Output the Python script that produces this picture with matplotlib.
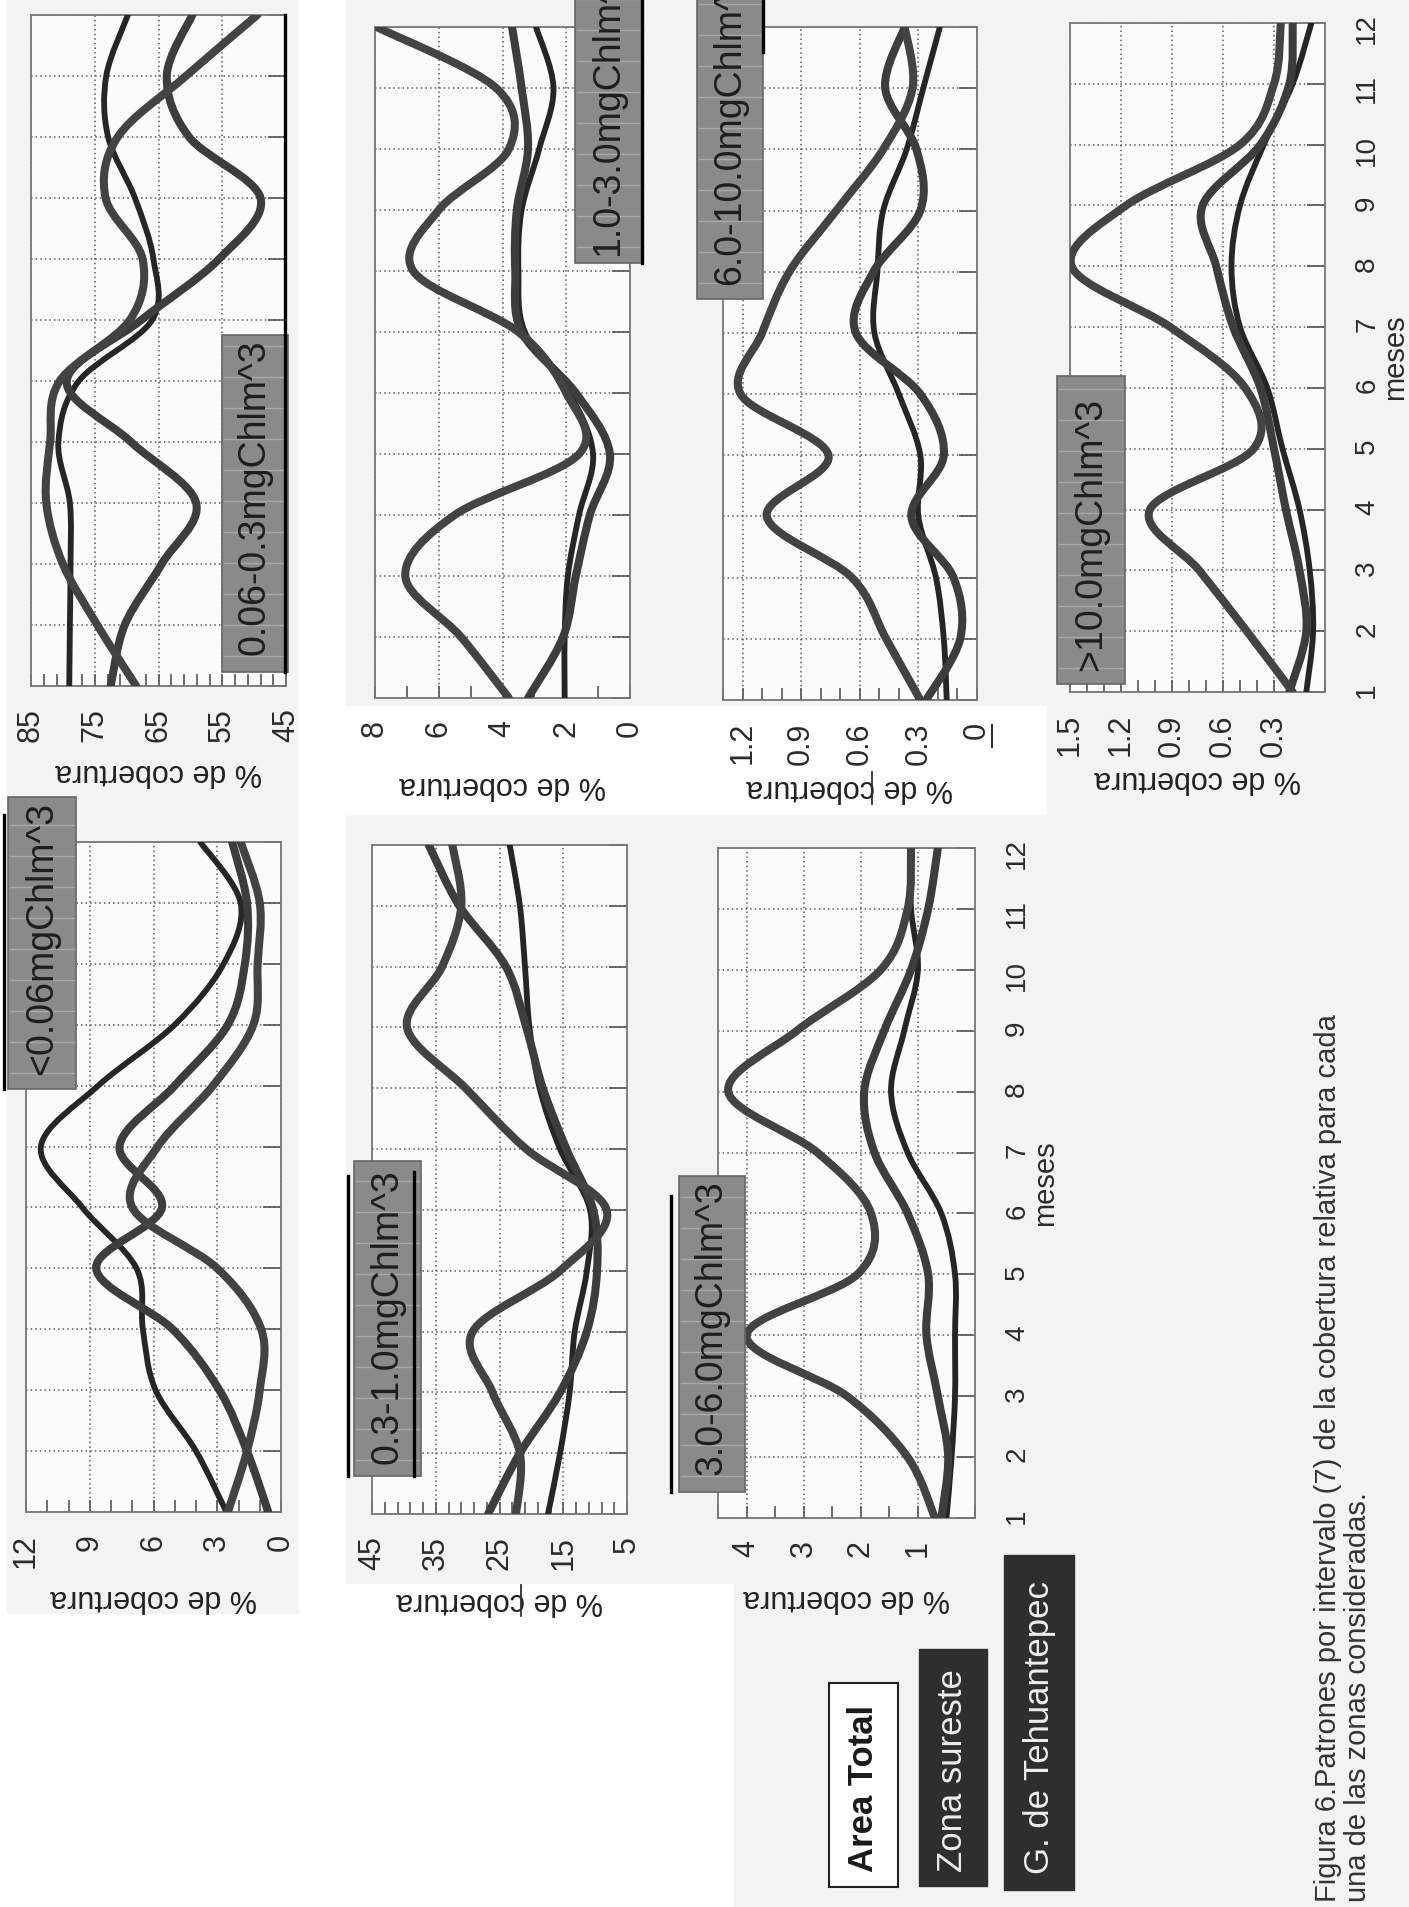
import numpy as np
import matplotlib.pyplot as plt
from matplotlib.path import Path
from matplotlib.patches import PathPatch, Rectangle
from matplotlib.lines import Line2D

plt.rcParams['font.family'] = ['Liberation Sans', 'DejaVu Sans']

W, H = 1409, 1907

meses = list(range(1, 13))

# ===== % DE COBERTURA POR MES (3 zonas por intervalo) =====
# 0.06-0.3 mgChl/m^3
c0603_a = [79.0, 78.9, 78.8, 78.9, 80.7, 77.5, 66.0, 65.8, 68.7, 72.9, 73.2, 69.8]
c0603_b = [72.5, 70.3, 64.5, 59.1, 69.3, 79.4, 67.7, 55.5, 49.0, 60.2, 63.7, 59.7]
c0603_c = [68.5, 74.6, 80.0, 82.6, 82.0, 80.5, 69.5, 67.5, 73.3, 71.4, 60.7, 49.5]

# 1.0-3.0
c1030_a = [3.8, 5.3, 7.05, 5.5, 1.6, 2.0, 3.5, 6.8, 6.0, 3.8, 4.2, 7.95]
c1030_b = [3.2, 2.1, 1.7, 1.26, 0.63, 1.7, 3.4, 3.6, 3.55, 3.2, 3.4, 3.7]
c1030_c = [2.05, 2.05, 1.95, 1.6, 1.16, 1.9, 3.3, 3.5, 3.4, 2.85, 2.4, 2.95]

# 6.0-10.0
c6010_a = [0.29, 0.465, 0.64, 1.076, 0.76, 1.21, 1.10, 0.96, 0.72, 0.48, 0.33, 0.37]
c6010_b = [0.26, 0.086, 0.12, 0.336, 0.17, 0.29, 0.62, 0.53, 0.29, 0.31, 0.47, 0.37]
c6010_c = [0.155, 0.17, 0.21, 0.30, 0.29, 0.40, 0.525, 0.51, 0.48, 0.36, 0.275, 0.19]

# >10.0
c10_a = [0.19, 0.46, 0.74, 1.03, 0.42, 0.47, 0.91, 1.49, 1.17, 0.50, 0.30, 0.26]
c10_b = [0.21, 0.11, 0.15, 0.23, 0.30, 0.38, 0.54, 0.64, 0.72, 0.38, 0.21, 0.19]
c10_c = [0.11, 0.07, 0.09, 0.15, 0.25, 0.34, 0.50, 0.55, 0.50, 0.36, 0.19, 0.08]

# <0.06
c006_a = [2.57, 4.0, 5.9, 6.5, 6.8, 9.35, 11.3, 8.6, 5.0, 2.7, 1.9, 3.8]
c006_b = [0.6, 1.6, 2.9, 5.1, 8.7, 5.6, 7.6, 5.0, 2.5, 1.7, 1.6, 2.3]
c006_c = [2.5, 1.6, 1.0, 0.93, 3.0, 7.0, 5.8, 3.2, 1.3, 1.1, 1.0, 1.9]

# 0.3-1.0
c0310_a = [22.4, 21.8, 26.1, 29.2, 15.5, 8.2, 20.8, 30.3, 39.5, 34.0, 31.0, 32.4]
c0310_b = [26.8, 21.8, 15.5, 11.3, 9.7, 10.3, 14.5, 18.2, 20.8, 24.0, 31.3, 36.1]
c0310_c = [17.4, 15.5, 14.0, 13.2, 11.3, 10.8, 15.5, 18.7, 20.3, 21.0, 21.8, 23.4]

# 3.0-6.0
c3060_a = [0.7, 1.18, 2.24, 4.0, 2.06, 1.82, 2.76, 4.32, 3.12, 1.65, 1.18, 1.12]
c3060_b = [0.59, 0.47, 0.65, 0.85, 0.82, 1.18, 1.76, 1.94, 1.59, 1.12, 0.82, 0.65]
c3060_c = [0.5, 0.41, 0.35, 0.35, 0.35, 0.59, 1.18, 1.47, 1.24, 1.0, 1.12, 1.12]

# ===== FIGURA =====
fig = plt.figure(figsize=(W / 100, H / 100), dpi=100, facecolor='#f3f3f3')


def fx(x):
    return x / W


def fy(y):
    return 1 - y / H


def rect(x0, y0, x1, y1, **kw):
    r = Rectangle((fx(x0), fy(y1)), (x1 - x0) / W, (y1 - y0) / H,
                  transform=fig.transFigure, **kw)
    fig.add_artist(r)
    return r


def vline(x, y0, y1, lw=2.4, color='black'):
    fig.add_artist(Line2D([fx(x), fx(x)], [fy(y0), fy(y1)],
                          transform=fig.transFigure, color=color, lw=lw,
                          zorder=6))


def suave(vals, mes):
    # linea suavizada tipo Excel (Catmull-Rom -> Bezier)
    pts = np.column_stack([vals, mes]).astype(float)
    n = len(pts)
    verts = [pts[0]]
    codes = [Path.MOVETO]
    for i in range(n - 1):
        p0 = pts[i - 1] if i > 0 else pts[i]
        p1 = pts[i]
        p2 = pts[i + 1]
        p3 = pts[i + 2] if i + 2 < n else pts[i + 1]
        verts += [p1 + (p2 - p0) / 6, p2 - (p3 - p1) / 6, p2]
        codes += [Path.CURVE4] * 3
    return Path(verts, codes)


# zonas blancas del montaje
blanco = dict(facecolor='white', edgecolor='none', zorder=-5)
rect(0, 0, 7, 1614, **blanco)
rect(299, 0, 346, 1614, **blanco)
rect(346, 706, 1047, 815, **blanco)
rect(346, 1584, 734, 1614, **blanco)
rect(0, 1614, 734, 1907, **blanco)

panels = [
    dict(box=(31, 15, 286, 686), xlim=(85, 45), ticks=[85, 75, 65, 55, 45],
         labels=['85', '75', '65', '55', '45'], minor=2,
         series=[c0603_a, c0603_b, c0603_c], ylab=772, months=False),
    dict(box=(375, 27, 630, 698), xlim=(8, 0), ticks=[8, 6, 4, 2, 0],
         labels=['8', '6', '4', '2', '0'], minor=1,
         series=[c1030_c, c1030_b, c1030_a], ylab=785, months=False),
    dict(box=(723, 27, 977, 700), xlim=(1.3, 0), ticks=[1.2, 0.9, 0.6, 0.3, 0],
         labels=['1.2', '0.9', '0.6', '0.3', '0'], minor=0.1,
         series=[c6010_c, c6010_b, c6010_a], ylab=788, months=False),
    dict(box=(1070, 23, 1325, 692), xlim=(1.5, 0), ticks=[1.5, 1.2, 0.9, 0.6, 0.3],
         labels=['1.5', '1.2', '0.9', '0.6', '0.3'], minor=0.1,
         series=[c10_c, c10_b, c10_a], ylab=779, months=True),
    dict(box=(26, 842, 281, 1512), xlim=(12, 0), ticks=[12, 9, 6, 3, 0],
         labels=['12', '9', '6', '3', '0'], minor=1,
         series=[c006_a, c006_b, c006_c], ylab=1598, months=False),
    dict(box=(372, 845, 627, 1514), xlim=(45, 5), ticks=[45, 35, 25, 15, 5],
         labels=['45', '35', '25', '15', '5'], minor=2,
         series=[c0310_c, c0310_b, c0310_a], ylab=1601, months=False),
    dict(box=(718, 848, 975, 1518), xlim=(4.5, 0), ticks=[4, 3, 2, 1],
         labels=['4', '3', '2', '1'], minor=0.5,
         series=[c3060_c, c3060_b, c3060_a], ylab=1598, months=True),
]

for p in panels:
    x0, y0, x1, y1 = p['box']
    ax = fig.add_axes([fx(x0), fy(y1), (x1 - x0) / W, (y1 - y0) / H])
    ax.set_facecolor('#fbfbfb')
    ax.set_xlim(*p['xlim'])
    ax.set_ylim(1, 12)

    # primera serie mas delgada y oscura, las otras gruesas
    estilos = [(4.2, '#262626'), (5.8, '#3d3d3d'), (5.8, '#434343')]
    for serie, (lw, col) in zip(p['series'], estilos):
        ax.add_patch(PathPatch(suave(serie, meses), fill=False, lw=lw,
                               edgecolor=col, capstyle='round',
                               joinstyle='round', zorder=3))

    lo, hi = min(p['xlim']), max(p['xlim'])
    ax.set_xticks(p['ticks'])
    ax.set_xticklabels(p['labels'])
    ax.set_xticks(np.arange(lo, hi + 1e-9, p['minor']), minor=True)
    ax.tick_params(axis='x', which='both', direction='in', length=9,
                   width=1.2, color='#555555', top=False)
    ax.tick_params(axis='x', which='major', labelsize=22, labelrotation=90,
                   pad=16, labelcolor='#2b2b2b')

    ax.yaxis.tick_right()
    ax.set_yticks(meses)
    ax.tick_params(axis='y', direction='in', length=13, width=1.2,
                   color='#555555', labelright=p['months'], labelleft=False,
                   labelsize=20, labelrotation=90, pad=21,
                   labelcolor='#2b2b2b')

    ax.grid(True, which='major', linestyle=(0, (1, 2)), lw=1.1,
            color='#5a5a5a')
    ax.set_axisbelow(True)
    for s in ax.spines.values():
        s.set_color('#777777')
        s.set_linewidth(1.3)

    fig.text(fx((x0 + x1) / 2), fy(p['ylab']), '% de cobertura', rotation=180,
             ha='center', va='center', fontsize=22, color='#222222')

    if p['months']:
        fig.text(fx(x1 + 70), fy((y0 + y1) / 2), 'meses', rotation=90,
                 ha='center', va='center', fontsize=21, color='#2b2b2b')

# ===== ETIQUETAS DE INTERVALO =====
etiquetas = [
    (222, 335, 288, 672, '0.06-0.3mgChlm^3', 655),
    (575, -5, 642, 263, '1.0-3.0mgChlm^3', 256),
    (697, -5, 763, 299, '6.0-10.0mgChlm^3', 285),
    (1057, 376, 1125, 684, '>10.0mgChlm^3', 671),
    (8, 797, 76, 1089, '<0.06mgChlm^3', 1075),
    (354, 1161, 421, 1476, '0.3-1.0mgChlm^3', 1464),
    (679, 1176, 745, 1492, '3.0-6.0mgChlm^3', 1475),
]
for bx0, by0, bx1, by1, txt, tb in etiquetas:
    rect(bx0, by0, bx1, by1, facecolor='#8a8a8a', edgecolor='#666666',
         lw=1.2, zorder=4)
    for yy in np.arange(by1 - 16, by0, -31):
        fig.add_artist(Line2D([fx(bx0 + 2), fx(bx1 - 2)], [fy(yy), fy(yy)],
                              transform=fig.transFigure, color='#a9a9a9',
                              lw=1.0, zorder=4.5))
    fig.text(fx((bx0 + bx1) / 2), fy(tb), txt, rotation=90, ha='center',
             va='bottom', fontsize=27, color='#1e1e1e', zorder=5)

# trazos negros del montaje
vline(285, 15, 672)
vline(642, 0, 263)
vline(763, 0, 52)
vline(4, 815, 1089)
vline(348, 1176, 1476)
vline(414, 1172, 1476)
vline(671, 1196, 1492)
# separadores de los rotulos pegados
vline(872, 772, 804, lw=1.3, color='#333333')
vline(521, 1585, 1616, lw=1.3, color='#333333')
vline(992, 725, 747, lw=1.5, color='#333333')

# ===== LEYENDA =====
rect(829, 1683, 898, 1887, facecolor='white', edgecolor='#222222', lw=1.5, zorder=4)
fig.text(fx(863.5), fy(1872), 'Area Total', rotation=90, ha='center',
         va='bottom', fontsize=25, fontweight='bold', color='#1a1a1a', zorder=5)
rect(919, 1649, 987, 1886, facecolor='#2e2e2e', edgecolor='#2e2e2e', zorder=4)
fig.text(fx(953), fy(1872), 'Zona sureste', rotation=90, ha='center',
         va='bottom', fontsize=25, color='#eeeeee', zorder=5)
rect(1004, 1555, 1074, 1890, facecolor='#2e2e2e', edgecolor='#2e2e2e', zorder=4)
fig.text(fx(1039), fy(1874), 'G. de Tehuantepec', rotation=90, ha='center',
         va='bottom', fontsize=25, color='#eeeeee', zorder=5)

# ===== PIE DE FIGURA =====
fig.text(fx(1343), fy(1902),
         'Figura 6.Patrones por intervalo (7) de la cobertura relativa para cada\n'
         'una de las zonas consideradas.',
         rotation=90, ha='center', va='bottom', multialignment='left',
         fontsize=21, linespacing=1.12, color='#333333')

fig.savefig('out.png', dpi=100, facecolor=fig.get_facecolor())
